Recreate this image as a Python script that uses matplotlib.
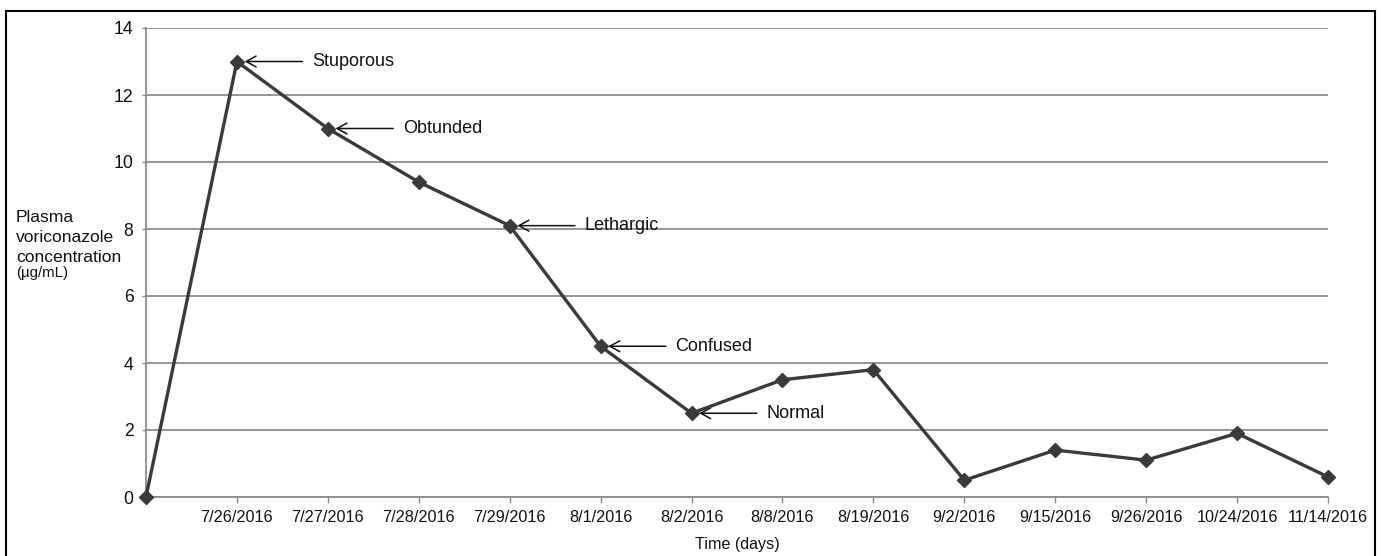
import matplotlib
matplotlib.use("Agg")
import matplotlib.pyplot as plt
from matplotlib.patches import Rectangle

plt.rcParams["font.family"] = ["Liberation Sans", "DejaVu Sans"]

# ---------------------------------------------------------------------------
# Data
# ---------------------------------------------------------------------------

dates = ["", "7/26/2016", "7/27/2016", "7/28/2016", "7/29/2016", "8/1/2016",
         "8/2/2016", "8/8/2016", "8/19/2016", "9/2/2016", "9/15/2016",
         "9/26/2016", "10/24/2016", "11/14/2016"]
conc = [0, 13, 11, 9.4, 8.1, 4.5, 2.5, 3.5, 3.8, 0.5, 1.4, 1.1, 1.9, 0.6]

# clinical state annotations: (category index, label)
states_idx = [1, 2, 4, 5, 6]
states_lbl = ["Stuporous", "Obtunded", "Lethargic", "Confused", "Normal"]
yticks = [0, 2, 4, 6, 8, 10, 12, 14]
ylabel_lines = ["Plasma", "voriconazole", "concentration", "(µg/mL)"]

# ---------------------------------------------------------------------------
# Figure
# ---------------------------------------------------------------------------

W, H = 1381, 556
fig = plt.figure(figsize=(W / 100, H / 100), dpi=100)
ax = fig.add_axes([146 / W, 1 - 497 / H, (1328 - 146) / W, (497 - 28) / H])

grid_c = "#8c8c8c"
x = list(range(len(dates)))

ax.plot(x, conc, color="#3a3a3a", lw=2.4, marker="D", markersize=7.5,
        markerfacecolor="#3a3a3a", markeredgecolor="#3a3a3a", zorder=5,
        clip_on=False)

ax.set_xlim(0, len(dates) - 1)
ax.set_ylim(0, 14)
ax.set_yticks(yticks)
ax.set_xticks(x)
ax.set_xticklabels(dates)

ax.yaxis.grid(True, color=grid_c, lw=1.3)
ax.set_axisbelow(True)
for s in ["top", "right"]:
    ax.spines[s].set_visible(False)
for s in ["left", "bottom"]:
    ax.spines[s].set_color(grid_c)
    ax.spines[s].set_linewidth(1.3)

ax.tick_params(axis="x", length=4, width=1, color=grid_c, pad=5,
               labelsize=11.7, labelcolor="#111111")
ax.tick_params(axis="y", length=3, width=1, color=grid_c, pad=6,
               labelsize=12.7, labelcolor="#111111")

# x label
ax.set_xlabel("Time (days)", fontsize=11.6, color="#111111")
ax.xaxis.label.set_va("center")
ax.xaxis.set_label_coords(0.5, (497 - 545) / (497 - 28))

# y label, horizontal block at far left (one text per line, last one smaller)
for line, ypx, fs in zip(ylabel_lines, [217, 237, 257, 273],
                         [12.6, 12.6, 12.6, 10.8]):
    fig.text(16 / W, 1 - ypx / H, line, fontsize=fs, ha="left",
             va="center", color="#111111")

# state annotations
for i, lbl in zip(states_idx, states_lbl):
    ax.annotate(lbl, xy=(x[i], conc[i]), xytext=(75, 0),
                textcoords="offset pixels", fontsize=13, ha="left",
                va="center", color="#111111",
                arrowprops=dict(arrowstyle="->,head_length=0.55,head_width=0.3",
                                color="#111111", lw=1.1,
                                shrinkA=5, shrinkB=5.5))

# outer frame
fig.add_artist(Rectangle((6 / W, -0.05), (1375 - 6) / W, 1.05 - 11.5 / H,
                         transform=fig.transFigure, fill=False,
                         edgecolor="black", lw=1.5))

fig.savefig("out.png", dpi=100)
